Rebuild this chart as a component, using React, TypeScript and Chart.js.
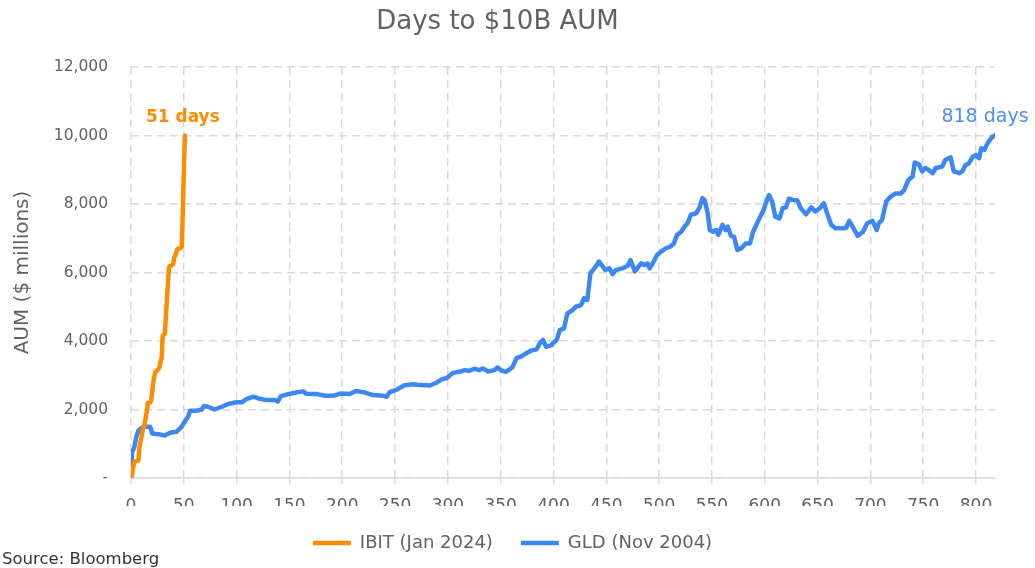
import React, { useEffect, useRef } from 'react';
import { Chart, registerables } from 'chart.js';

Chart.register(...registerables);

const FONT = '"DejaVu Sans", "Open Sans", sans-serif';
const ORANGE = '#FF8C00';
const BLUE = '#3D87F5';
const TEXT = '#626262';
const GRID = '#d9d9d9';

const chartTitle = 'Days to $10B AUM';
const yAxisTitle = 'AUM ($ millions)';
const seriesNames = ['IBIT (Jan 2024)', 'GLD (Nov 2004)'];

const ibitDays = [
  0, 1, 2, 3, 4, 5, 6, 7, 8, 9, 10, 11, 12, 13, 14, 15, 16, 17, 18, 19, 20, 21, 22, 23, 24, 25,
  26, 27, 28, 29, 30, 31, 32, 33, 34, 35, 36, 37, 38, 39, 40, 41, 42, 43, 44, 45, 46, 47, 48, 49, 50, 51,
];
const ibitAum = [
  0, 120, 300, 460, 480, 490, 500, 520, 900, 1050, 1200, 1400, 1480, 1600, 1780, 1950, 2200, 2200, 2200,
  2250, 2500, 2780, 2950, 3100, 3120, 3150, 3180, 3250, 3400, 3500, 4150, 4180, 4200, 4700, 5200, 5700,
  6150, 6200, 6200, 6220, 6250, 6450, 6500, 6600, 6680, 6700, 6700, 6720, 6750, 7700, 8900, 10000,
];

const gldDays = [
  0, 1, 3, 5, 7, 10, 13, 18, 19, 20, 26, 32, 37, 43, 48, 51, 54, 56, 62, 67, 69, 73, 79, 86, 92, 100,
  105, 109, 116, 120, 127, 136, 139, 142, 149, 155, 163, 166, 176, 184, 193, 199, 207, 213, 221, 229,
  239, 242, 245, 251, 259, 267, 271, 283, 289, 294, 299, 305, 311, 316, 320, 325, 330, 333, 338, 344,
  347, 350, 355, 361, 365, 370, 373, 379, 384, 387, 390, 393, 398, 400, 403, 406, 410, 413, 418, 421,
  426, 429, 432, 435, 440, 443, 446, 449, 453, 456, 459, 465, 470, 473, 477, 483, 486, 489, 491, 494,
  498, 502, 506, 511, 514, 517, 521, 524, 527, 530, 535, 538, 541, 543, 546, 548, 551, 554, 556, 560,
  563, 565, 568, 571, 574, 578, 582, 586, 589, 592, 595, 599, 601, 604, 607, 610, 614, 617, 620, 623,
  626, 631, 634, 639, 644, 648, 652, 656, 659, 663, 667, 674, 677, 680, 685, 688, 693, 697, 702, 706,
  708, 711, 715, 719, 724, 729, 732, 736, 740, 742, 746, 749, 752, 755, 759, 762, 768, 771, 776, 779,
  784, 787, 790, 793, 797, 800, 803, 805, 808, 810, 812, 815, 818,
];
const gldAum = [
  0, 760, 880, 1200, 1380, 1460, 1500, 1500, 1420, 1300, 1280, 1240, 1320, 1350, 1500, 1650, 1790, 1965,
  1965, 2000, 2100, 2080, 2000, 2080, 2160, 2210, 2210, 2300, 2375, 2330, 2280, 2280, 2230, 2390, 2450,
  2490, 2530, 2460, 2450, 2400, 2410, 2470, 2450, 2540, 2500, 2420, 2400, 2370, 2510, 2570, 2710, 2740,
  2720, 2700, 2780, 2880, 2920, 3070, 3100, 3150, 3130, 3190, 3150, 3200, 3110, 3150, 3230, 3150, 3100,
  3230, 3500, 3560, 3620, 3720, 3760, 3930, 4030, 3830, 3880, 3950, 4030, 4320, 4370, 4800, 4900, 5000,
  5050, 5250, 5200, 5980, 6170, 6320, 6200, 6080, 6120, 5950, 6070, 6120, 6190, 6360, 6030, 6270, 6220,
  6260, 6120, 6270, 6510, 6610, 6700, 6760, 6850, 7100, 7190, 7340, 7440, 7680, 7730, 7880, 8170, 8120,
  7730, 7240, 7190, 7240, 7100, 7390, 7240, 7340, 7070, 7040, 6660, 6710, 6850, 6850, 7190, 7390, 7580,
  7830, 8020, 8260, 8070, 7630, 7580, 7875, 7900, 8160, 8120, 8100, 7880, 7700, 7900, 7780, 7875, 8020,
  7730, 7390, 7290, 7290, 7300, 7510, 7240, 7070, 7190, 7440, 7510, 7240, 7440, 7530, 8070, 8210, 8310,
  8310, 8410, 8700, 8800, 9210, 9160, 8950, 9050, 9000, 8900, 9050, 9090, 9290, 9360, 8950, 8900, 8950,
  9140, 9180, 9380, 9430, 9340, 9630, 9580, 9720, 9820, 9950, 10000,
];

const xMin = 0;
const xMax = 818;
const xStep = 50;
const yMin = 0;
const yMax = 12000;
const yStep = 2000;

const ibitLabel = '51 days';
const gldLabel = '818 days';
const sourceText = 'Source: Bloomberg';

const annotationPlugin = {
  id: 'endLabels',
  afterLayout(chart: any) {
    const lg = chart.legend;
    if (lg) {
      lg.left += 15;
      lg.right += 15;
    }
  },
  afterDatasetsDraw(chart: any) {
    const { ctx, scales } = chart;
    const x = scales.x;
    const y = scales.y;
    ctx.save();
    ctx.textAlign = 'center';
    ctx.textBaseline = 'middle';
    const li = ibitDays.length - 1;
    ctx.font = `bold 17px ${FONT}`;
    ctx.fillStyle = ORANGE;
    ctx.fillText(ibitLabel, x.getPixelForValue(ibitDays[li]) - 2, y.getPixelForValue(ibitAum[li]) - 18);
    const lg = gldDays.length - 1;
    ctx.font = `19px ${FONT}`;
    ctx.fillStyle = '#4A90F7';
    ctx.fillText(gldLabel, x.getPixelForValue(gldDays[lg]) - 10, y.getPixelForValue(gldAum[lg]) - 18);
    ctx.restore();
  },
  afterDraw(chart: any) {
    const { ctx } = chart;
    ctx.save();
    ctx.textAlign = 'left';
    ctx.textBaseline = 'middle';
    ctx.font = `16.5px ${FONT}`;
    ctx.fillStyle = '#333333';
    ctx.fillText(sourceText, 2, 560);
    ctx.restore();
  },
};

export default function App() {
  const canvasRef = useRef<HTMLCanvasElement | null>(null);

  useEffect(() => {
    const canvas = canvasRef.current;
    if (!canvas) return;
    const legendPad = 28;
    const legendFont = 18;
    const bottomPad = 6;
    const chart = new Chart(canvas, {
      type: 'line',
      data: {
        datasets: [
          {
            label: seriesNames[0],
            data: ibitDays.map((d, i) => ({ x: d, y: ibitAum[i] })),
            borderColor: ORANGE,
            backgroundColor: ORANGE,
            borderWidth: 4.5,
            pointRadius: 0,
            borderCapStyle: 'round',
            borderJoinStyle: 'round',
            tension: 0,
          },
          {
            label: seriesNames[1],
            data: gldDays.map((d, i) => ({ x: d, y: gldAum[i] })),
            borderColor: BLUE,
            backgroundColor: BLUE,
            borderWidth: 4.5,
            pointRadius: 0,
            borderCapStyle: 'round',
            borderJoinStyle: 'round',
            tension: 0,
          },
        ],
      },
      options: {
        animation: false,
        responsive: true,
        maintainAspectRatio: false,
        layout: { padding: { left: 0, right: 40, top: 0, bottom: bottomPad } },
        plugins: {
          title: {
            display: true,
            text: chartTitle,
            color: TEXT,
            font: { family: FONT, size: 26, weight: 'normal' },
            padding: { top: 7, bottom: 28.8 },
          },
          legend: {
            position: 'bottom',
            labels: {
              usePointStyle: true,
              pointStyle: 'line',
              pointStyleWidth: 38,
              color: TEXT,
              font: { family: FONT, size: legendFont },
              padding: legendPad,
            },
          },
          tooltip: { enabled: false },
        },
        scales: {
          x: {
            type: 'linear',
            min: xMin,
            max: xMax,
            afterFit: (scale: any) => {
              scale.height = 568 - bottomPad - (legendFont + legendPad + 10) - 478;
            },
            ticks: {
              stepSize: xStep,
              includeBounds: false,
              color: TEXT,
              font: { family: FONT, size: 17 },
              padding: 12,
              maxRotation: 0,
              autoSkip: false,
            },
            grid: {
              color: GRID,
              lineWidth: 1.5,
              drawTicks: true,
              tickLength: 6,
              tickColor: GRID,
              tickBorderDash: [],
            },
            border: { display: true, color: GRID, width: 1.5, dash: [8, 5] },
          },
          y: {
            type: 'linear',
            min: yMin,
            max: yMax,
            afterFit: (scale: any) => {
              scale.width = 131;
            },
            ticks: {
              stepSize: yStep,
              color: TEXT,
              font: { family: FONT, size: 15.5 },
              padding: 23,
              callback: (v: any) => (Number(v) === 0 ? '-' : Number(v).toLocaleString('en-US')),
            },
            grid: {
              color: GRID,
              lineWidth: 1.5,
              drawTicks: false,
            },
            border: { display: false, dash: [8, 5] },
            title: {
              display: true,
              text: yAxisTitle,
              color: TEXT,
              font: { family: FONT, size: 20, weight: 'normal' },
              padding: { top: 11, bottom: 0 },
            },
          },
        },
      },
      plugins: [annotationPlugin],
    });
    return () => chart.destroy();
  }, []);

  return (
    <div style={{ position: 'absolute', left: 0, top: 0, width: 1035, height: 568, background: '#fff' }}>
      <canvas ref={canvasRef} />
    </div>
  );
}
